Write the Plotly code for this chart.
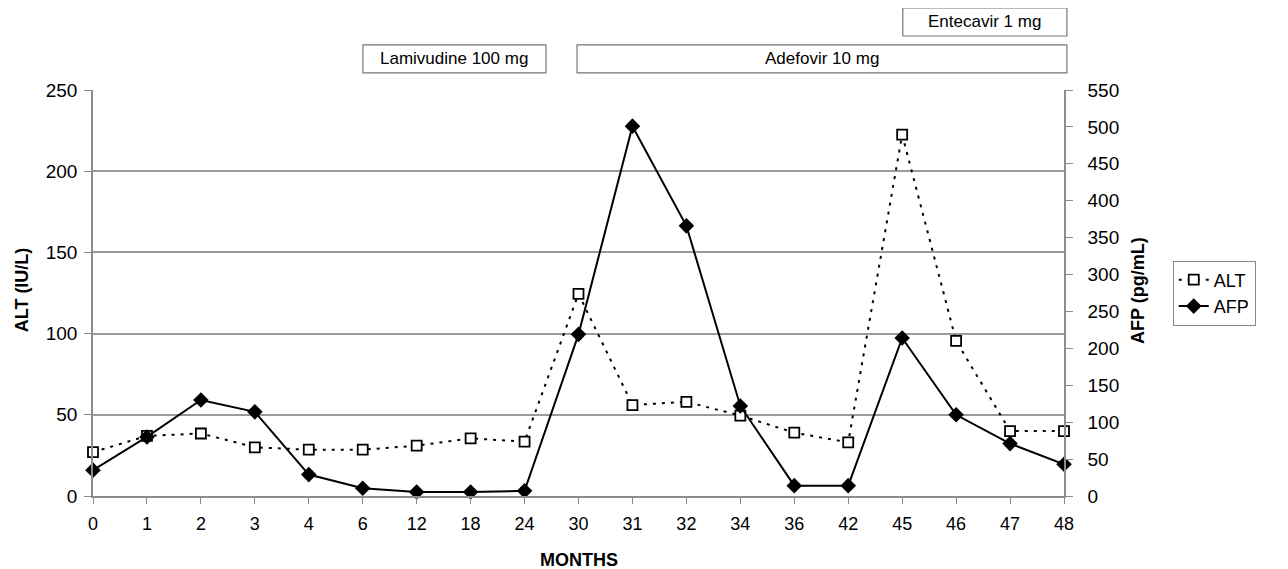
import plotly.graph_objects as go

months = ["0", "1", "2", "3", "4", "6", "12", "18", "24", "30", "31", "32", "34", "36", "42", "45", "46", "47", "48"]
alt = [27, 37, 38.5, 30, 28.5, 28.5, 31, 35.5, 33.5, 124.5, 56, 58, 49.5, 39, 33, 222.5, 95.5, 40, 40]
afp = [35, 80, 130, 114, 29, 10.5, 5.5, 5.5, 7, 219, 501, 366, 122, 14, 14, 214, 110, 71, 43]
xidx = list(range(len(months)))

FONT = "Liberation Sans, Arial, sans-serif"
AXC = "#8c8c8c"

fig = go.Figure()
fig.add_trace(go.Scatter(
    x=xidx, y=alt, name="ALT", mode="lines+markers",
    line=dict(color="black", width=2, dash="3px,6px"),
    marker=dict(symbol="square", size=10, color="white", line=dict(width=1.8, color="black")),
    cliponaxis=False,
))
fig.add_trace(go.Scatter(
    x=xidx, y=afp, name="AFP", mode="lines+markers", yaxis="y2",
    line=dict(color="black", width=2),
    marker=dict(symbol="diamond", size=12, color="black"),
    cliponaxis=False,
))

# page has an 8px body margin, so the figure is 8px smaller and margins shifted by 8
fig.update_layout(
    width=1280, height=561,
    margin=dict(l=85, r=224, t=82, b=73, autoexpand=False),
    paper_bgcolor="white", plot_bgcolor="white",
    font=dict(family=FONT, size=18, color="black"),
    showlegend=True,
    legend=dict(x=1.112, y=0.5, xanchor="left", yanchor="middle",
                bordercolor="#888", borderwidth=1, bgcolor="white",
                font=dict(size=18, family=FONT), tracegroupgap=0),
    xaxis=dict(range=[0, 18], tickmode="array", tickvals=xidx, ticktext=months,
               showgrid=False, zeroline=False, showline=True, linecolor=AXC, linewidth=1.5,
               ticks="outside", ticklen=6, tickcolor=AXC, automargin=False,
               tickfont=dict(size=18), ticklabelstandoff=5),
    yaxis=dict(range=[0, 250], tickmode="linear", tick0=0, dtick=50,
               showgrid=True, gridcolor="#9a9a9a", gridwidth=1.5, zeroline=False,
               showline=True, linecolor=AXC, linewidth=1.5, automargin=False,
               ticks="outside", ticklen=7, tickcolor=AXC, tickfont=dict(size=19),
               ticklabelstandoff=3),
    yaxis2=dict(range=[0, 550], tickmode="linear", tick0=0, dtick=50, overlaying="y", side="right",
                showgrid=False, zeroline=False, showline=True, linecolor=AXC, linewidth=1.5,
                automargin=False,
                ticks="outside", ticklen=7, tickcolor=AXC, tickfont=dict(size=19),
                ticklabelstandoff=11),
)

# axis titles
fig.add_annotation(xref="paper", yref="paper", x=-0.073, y=0.507, text="<b>ALT (IU/L)</b>",
                   textangle=-90, showarrow=False, font=dict(size=18, family=FONT),
                   xanchor="center", yanchor="middle")
fig.add_annotation(xref="paper", yref="paper", x=1.076, y=0.507, text="<b>AFP (pg/mL)</b>",
                   textangle=-90, showarrow=False, font=dict(size=18, family=FONT),
                   xanchor="center", yanchor="middle")
fig.add_annotation(xref="paper", yref="paper", x=0.5, y=-0.158, text="<b>MONTHS</b>",
                   showarrow=False, font=dict(size=18, family=FONT),
                   xanchor="center", yanchor="middle")

boxes = [
    ("Lamivudine 100 mg", 0.278, 0.4665, 1.042, 1.111),
    ("Adefovir 10 mg", 0.4985, 1.003, 1.042, 1.111),
    ("Entecavir 1 mg", 0.834, 1.003, 1.133, 1.202),
]
for text, x0, x1, y0, y1 in boxes:
    fig.add_shape(type="rect", xref="paper", yref="paper", x0=x0, x1=x1, y0=y0, y1=y1,
                  line=dict(color="#777", width=1.2), fillcolor="white")
    fig.add_annotation(xref="paper", yref="paper", x=(x0 + x1) / 2, y=(y0 + y1) / 2,
                       text=text, showarrow=False, font=dict(size=17, family=FONT),
                       xanchor="center", yanchor="middle")

fig.write_html("out.html")
